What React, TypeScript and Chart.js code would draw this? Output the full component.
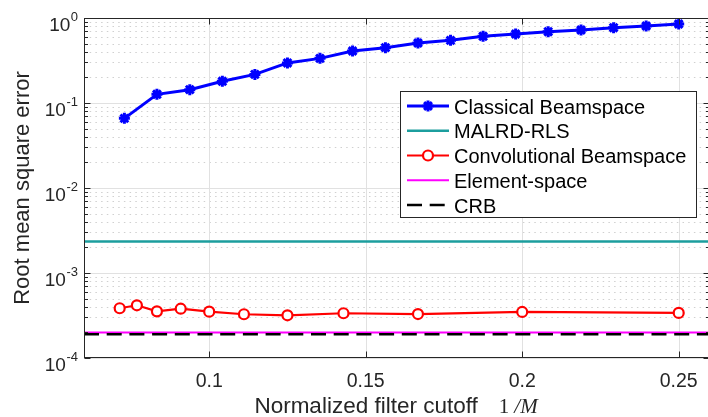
import React, { useEffect, useRef } from "react";
import { Chart, registerables } from "chart.js";
Chart.register(...registerables);

// ---- data ----
const classicalX = [0.0729, 0.0833, 0.0938, 0.1042, 0.1146, 0.125, 0.1354, 0.1458, 0.1563, 0.1667, 0.1771, 0.1875, 0.1979, 0.2083, 0.2188, 0.2292, 0.2396, 0.25];
const classicalY = [0.066, 0.1265, 0.1435, 0.18, 0.217, 0.296, 0.335, 0.409, 0.448, 0.508, 0.546, 0.609, 0.648, 0.69, 0.722, 0.769, 0.805, 0.85];
const convX = [0.0714, 0.0769, 0.0833, 0.0909, 0.1, 0.1111, 0.125, 0.1429, 0.1667, 0.2, 0.25];
const convY = [3.85e-4, 4.17e-4, 3.54e-4, 3.8e-4, 3.51e-4, 3.27e-4, 3.18e-4, 3.36e-4, 3.29e-4, 3.48e-4, 3.39e-4];
const flatX = [0.06, 0.26];
const malrdY = [2.34e-3, 2.34e-3];
const elementY = [1.99e-4, 1.99e-4];
const crbY = [1.9e-4, 1.9e-4];

const seriesLabels = ["Classical Beamspace", "MALRD-RLS", "Convolutional Beamspace", "Element-space", "CRB"];

const xTicks = [0.1, 0.15, 0.2, 0.25];
const xTickLabels = ["0.1", "0.15", "0.2", "0.25"];
const yTicks = [1, 0.1, 0.01, 0.001, 0.0001];
const yTickBase = "10";
const yTickExps = ["0", "-1", "-2", "-3", "-4"];
const xTitle = "Normalized filter cutoff";
const xTitleMath1 = "1";
const xTitleMath2 = "/M";
const yTitle = "Root mean square error";

const X_MIN = 0.06, X_MAX = 0.26, Y_MIN = 1e-4, Y_MAX = 1;
const TXT = "#262626";
const SANS = '"Liberation Sans", Arial, sans-serif';
const SERIF = '"Liberation Serif", serif';

const pts = (xs: number[], ys: number[]) => xs.map((x, i) => ({ x, y: ys[i] }));

function drawStar(ctx: CanvasRenderingContext2D, cx: number, cy: number, r: number) {
  ctx.beginPath();
  for (let k = 0; k < 4; k++) {
    const a = (k * Math.PI) / 4;
    ctx.moveTo(cx - r * Math.cos(a), cy - r * Math.sin(a));
    ctx.lineTo(cx + r * Math.cos(a), cy + r * Math.sin(a));
  }
  ctx.stroke();
}

const decor = {
  id: "decor",
  beforeDatasetsDraw(chart: any) {
    const { ctx, chartArea: a, scales } = chart;
    const x = scales.x, y = scales.y;
    ctx.save();
    ctx.fillStyle = "#ffffff";
    ctx.fillRect(a.left, a.top, a.right - a.left, a.bottom - a.top);
    // minor grid (dotted)
    ctx.lineWidth = 1;
    ctx.strokeStyle = "#d0d0d0";
    ctx.setLineDash([1.5, 4.2]);
    for (let d = -4; d < 0; d++) {
      for (let m = 2; m <= 9; m++) {
        const py = Math.round(y.getPixelForValue(m * Math.pow(10, d))) + 0.5;
        ctx.beginPath();
        ctx.moveTo(a.left, py);
        ctx.lineTo(a.right, py);
        ctx.stroke();
      }
    }
    // major grid
    ctx.setLineDash([]);
    ctx.strokeStyle = "#e1e1e1";
    xTicks.forEach((v) => {
      const px = Math.round(x.getPixelForValue(v)) + 0.5;
      ctx.beginPath();
      ctx.moveTo(px, a.top);
      ctx.lineTo(px, a.bottom);
      ctx.stroke();
    });
    yTicks.forEach((v) => {
      const py = Math.round(y.getPixelForValue(v)) + 0.5;
      ctx.beginPath();
      ctx.moveTo(a.left, py);
      ctx.lineTo(a.right, py);
      ctx.stroke();
    });
    ctx.restore();
  },
  afterDatasetsDraw(chart: any) {
    const { ctx, chartArea: a, scales } = chart;
    const x = scales.x, y = scales.y;
    ctx.save();
    // box
    ctx.strokeStyle = TXT;
    ctx.lineWidth = 1;
    ctx.setLineDash([]);
    const L = Math.round(a.left) + 0.5, R = Math.round(a.right) - 0.5, T = Math.round(a.top) + 0.5, B = Math.round(a.bottom) - 0.5;
    ctx.strokeRect(L, T, R - L, B - T);
    // ticks
    ctx.beginPath();
    xTicks.forEach((v) => {
      const px = Math.round(x.getPixelForValue(v)) + 0.5;
      ctx.moveTo(px, B); ctx.lineTo(px, B - 6);
      ctx.moveTo(px, T); ctx.lineTo(px, T + 6);
    });
    yTicks.forEach((v) => {
      const py = Math.round(y.getPixelForValue(v)) + 0.5;
      ctx.moveTo(L, py); ctx.lineTo(L + 6, py);
      ctx.moveTo(R, py); ctx.lineTo(R - 6, py);
    });
    for (let d = -4; d < 0; d++) {
      for (let m = 2; m <= 9; m++) {
        const py = Math.round(y.getPixelForValue(m * Math.pow(10, d))) + 0.5;
        ctx.moveTo(L, py); ctx.lineTo(L + 3.5, py);
        ctx.moveTo(R, py); ctx.lineTo(R - 3.5, py);
      }
    }
    ctx.stroke();

    // x tick labels
    ctx.fillStyle = TXT;
    ctx.font = `19.5px ${SANS}`;
    ctx.textAlign = "center";
    ctx.textBaseline = "alphabetic";
    xTicks.forEach((v, i) => {
      ctx.fillText(xTickLabels[i], x.getPixelForValue(v), 386.5);
    });
    // y tick labels with superscripts
    yTicks.forEach((v, i) => {
      const py = y.getPixelForValue(v);
      ctx.textAlign = "right";
      ctx.font = `13px ${SANS}`;
      const ew = ctx.measureText(yTickExps[i]).width;
      ctx.fillText(yTickExps[i], 78, py + 2.5);
      ctx.font = `19px ${SANS}`;
      ctx.fillText(yTickBase, 78 - ew - 0.5, py + 12.5);
    });

    // x title
    ctx.textAlign = "left";
    ctx.font = `22.5px ${SANS}`;
    const w0 = ctx.measureText(xTitle).width;
    ctx.font = `21px ${SERIF}`;
    const w1 = ctx.measureText(xTitleMath1).width;
    ctx.font = `italic 21px ${SERIF}`;
    const w2 = ctx.measureText(xTitleMath2).width;
    const gap1 = 21, gap2 = 5;
    const total = w0 + gap1 + w1 + gap2 + w2;
    const cx = (a.left + a.right) / 2 - 1;
    let sx = cx - total / 2;
    ctx.font = `22.5px ${SANS}`;
    ctx.fillText(xTitle, sx, 413);
    sx += w0 + gap1;
    ctx.font = `21px ${SERIF}`;
    ctx.fillText(xTitleMath1, sx, 413);
    sx += w1 + gap2;
    ctx.font = `italic 21px ${SERIF}`;
    ctx.fillText(xTitleMath2, sx, 413);

    // y title
    ctx.save();
    ctx.translate(28.7, (a.top + a.bottom) / 2);
    ctx.rotate(-Math.PI / 2);
    ctx.textAlign = "center";
    ctx.font = `22px ${SANS}`;
    ctx.fillText(yTitle, 0, 0);
    ctx.restore();

    // legend
    const lx = 400.5, ly = 91.5, lw = 296, lh = 126;
    ctx.fillStyle = "#ffffff";
    ctx.fillRect(lx, ly, lw, lh);
    ctx.strokeStyle = TXT;
    ctx.lineWidth = 1;
    ctx.strokeRect(lx, ly, lw, lh);
    const ds = chart.data.datasets;
    ds.forEach((d: any, i: number) => {
      const ry = 106 + i * 24.75;
      ctx.strokeStyle = d.borderColor;
      ctx.lineWidth = d.borderWidth;
      ctx.setLineDash(d.borderDash || []);
      ctx.beginPath();
      ctx.moveTo(407, ry);
      ctx.lineTo(449, ry);
      ctx.stroke();
      ctx.setLineDash([]);
      if (d.pointStyle === "star" && d.pointRadius > 0) {
        ctx.lineWidth = d.pointBorderWidth;
        drawStar(ctx, 428, ry, d.pointRadius);
      } else if (d.pointStyle === "circle" && d.pointRadius > 0) {
        ctx.lineWidth = d.pointBorderWidth;
        ctx.fillStyle = "#ffffff";
        ctx.beginPath();
        ctx.arc(428, ry, d.pointRadius, 0, Math.PI * 2);
        ctx.fill();
        ctx.stroke();
      }
      ctx.fillStyle = "#000000";
      ctx.font = `20px ${SANS}`;
      ctx.textAlign = "left";
      ctx.fillText(d.label, 454, ry + 7.5);
    });
    ctx.restore();
  },
};

export default function App() {
  const ref = useRef<HTMLCanvasElement>(null);
  useEffect(() => {
    if (!ref.current) return;
    const chart = new Chart(ref.current, {
      type: "line",
      data: {
        datasets: [
          {
            label: seriesLabels[0],
            data: pts(classicalX, classicalY),
            borderColor: "#0000ff",
            backgroundColor: "#0000ff",
            borderWidth: 3,
            pointStyle: "star",
            pointRadius: 5.5,
            pointBorderWidth: 3,
            pointBorderColor: "#0000ff",
            order: 5,
          },
          {
            label: seriesLabels[1],
            data: pts(flatX, malrdY),
            borderColor: "#1c9e9e",
            borderWidth: 2.5,
            pointRadius: 0,
            order: 4,
          },
          {
            label: seriesLabels[2],
            data: pts(convX, convY),
            borderColor: "#ff0000",
            borderWidth: 2.2,
            pointStyle: "circle",
            pointRadius: 5,
            pointBorderWidth: 2.2,
            pointBorderColor: "#ff0000",
            pointBackgroundColor: "#ffffff",
            order: 3,
          },
          {
            label: seriesLabels[3],
            data: pts(flatX, elementY),
            borderColor: "#ff00ff",
            borderWidth: 2,
            pointRadius: 0,
            order: 2,
          },
          {
            label: seriesLabels[4],
            data: pts(flatX, crbY),
            borderColor: "#000000",
            borderWidth: 2.5,
            borderDash: [15, 7.7],
            pointRadius: 0,
            order: 1,
          },
        ] as any,
      },
      options: {
        animation: false,
        responsive: false,
        devicePixelRatio: 1,
        parsing: false as any,
        layout: { autoPadding: false, padding: { left: 84, right: 2, top: 18, bottom: 59 } } as any,
        elements: { line: { tension: 0, fill: false } },
        scales: {
          x: { type: "linear", min: X_MIN, max: X_MAX, display: false },
          y: { type: "logarithmic", min: Y_MIN, max: Y_MAX, display: false },
        },
        plugins: { legend: { display: false }, tooltip: { enabled: false } },
      },
      plugins: [decor],
    });
    return () => chart.destroy();
  }, []);
  return (
    <div style={{ position: "absolute", left: 0, top: 0, width: 708, height: 417, overflow: "hidden", background: "#fff" }}>
      <canvas ref={ref} width={712} height={417} style={{ width: 712, height: 417, display: "block" }} />
    </div>
  );
}
